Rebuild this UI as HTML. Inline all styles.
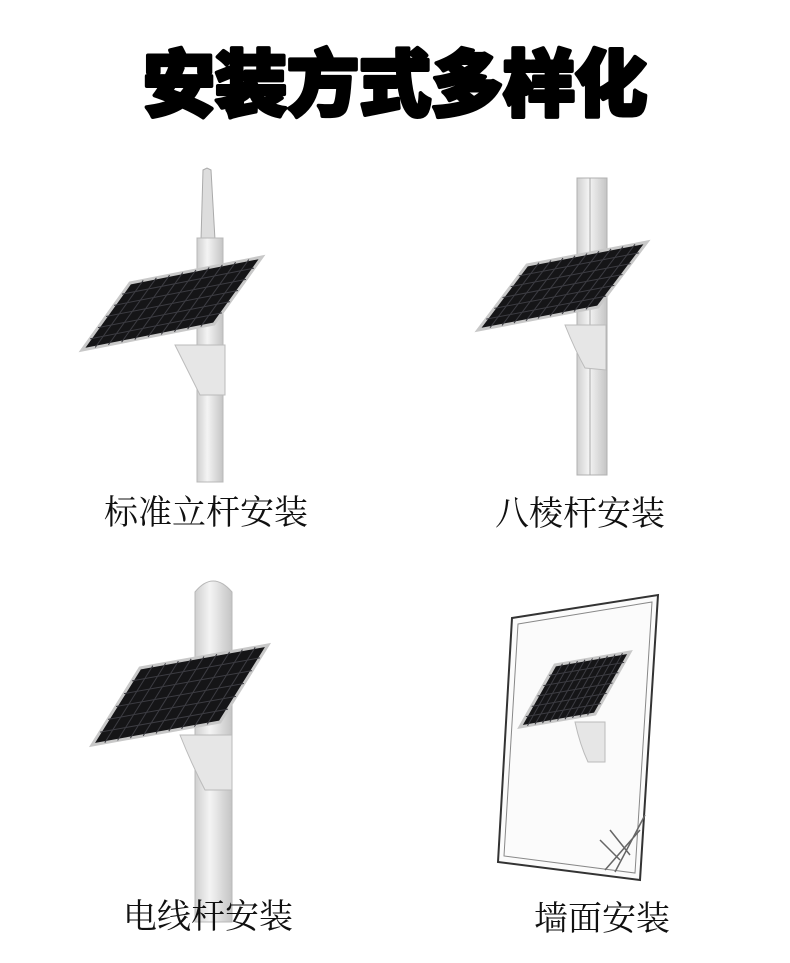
<!DOCTYPE html>
<html><head><meta charset="utf-8"><style>
body{margin:0;background:#fff;}
.t{font-family:"Liberation Serif","Noto Serif CJK SC",serif;font-size:34px;fill:#111;}
.h{font-family:"Liberation Sans","Noto Sans CJK SC",sans-serif;font-size:72px;font-weight:900;fill:#000;stroke:#000;stroke-width:4;stroke-linejoin:round;}
</style></head><body>
<svg width="790" height="958" viewBox="0 0 790 958" xmlns="http://www.w3.org/2000/svg">
<defs>
<linearGradient id="pg" x1="0" x2="1"><stop offset="0" stop-color="#cfcfcf"/><stop offset=".4" stop-color="#f4f4f4"/><stop offset="1" stop-color="#c4c4c4"/></linearGradient>
<g id="panel">
<rect x="0" y="0" width="1" height="1" fill="#151517" stroke="#c8c8c8" stroke-width="3" vector-effect="non-scaling-stroke"/>
<g stroke="#3c3c42" stroke-width="1" vector-effect="non-scaling-stroke">
<line x1=".1" y1="0" x2=".1" y2="1" vector-effect="non-scaling-stroke"/><line x1=".2" y1="0" x2=".2" y2="1" vector-effect="non-scaling-stroke"/><line x1=".3" y1="0" x2=".3" y2="1" vector-effect="non-scaling-stroke"/><line x1=".4" y1="0" x2=".4" y2="1" vector-effect="non-scaling-stroke"/><line x1=".5" y1="0" x2=".5" y2="1" vector-effect="non-scaling-stroke"/><line x1=".6" y1="0" x2=".6" y2="1" vector-effect="non-scaling-stroke"/><line x1=".7" y1="0" x2=".7" y2="1" vector-effect="non-scaling-stroke"/><line x1=".8" y1="0" x2=".8" y2="1" vector-effect="non-scaling-stroke"/><line x1=".9" y1="0" x2=".9" y2="1" vector-effect="non-scaling-stroke"/>
<line x1="0" y1=".1667" x2="1" y2=".1667" vector-effect="non-scaling-stroke"/><line x1="0" y1=".3333" x2="1" y2=".3333" vector-effect="non-scaling-stroke"/><line x1="0" y1=".5" x2="1" y2=".5" vector-effect="non-scaling-stroke"/><line x1="0" y1=".6667" x2="1" y2=".6667" vector-effect="non-scaling-stroke"/><line x1="0" y1=".8333" x2="1" y2=".8333" vector-effect="non-scaling-stroke"/>
</g></g>
</defs>
<text class="h" x="395" y="110" text-anchor="middle">安装方式多样化</text>

<!-- Q1 -->
<polygon points="203,170 207,168 211,170 215,240 201,240" fill="#ddd" stroke="#aaa"/>
<rect x="197" y="238" width="26" height="244" fill="url(#pg)" stroke="#b8b8b8"/>
<path d="M175,345 L225,345 L225,395 L200,395 Q190,375 175,345Z" fill="#e6e6e6" stroke="#bbb"/>
<use href="#panel" transform="matrix(132,-26,-48,67,130,283)"/>
<text class="t" x="206" y="524" text-anchor="middle">标准立杆安装</text>

<!-- Q2 -->
<rect x="577" y="178" width="30" height="297" fill="url(#pg)" stroke="#b0b0b0"/>
<line x1="590" y1="178" x2="590" y2="475" stroke="#aaa"/>
<path d="M565,325 L606,325 L606,370 L585,368 Q575,350 565,325Z" fill="#e6e6e6" stroke="#bbb"/>
<use href="#panel" transform="matrix(120,-23,-49,65,527,265)"/>
<text class="t" x="580" y="525" text-anchor="middle">八棱杆安装</text>

<!-- Q3 -->
<path d="M195,922 L195,592 Q213,570 232,592 L232,922Z" fill="url(#pg)" stroke="#b8b8b8"/>
<path d="M180,735 L232,735 L232,790 L205,790 Q192,765 180,735Z" fill="#e6e6e6" stroke="#bbb"/>
<use href="#panel" transform="matrix(128,-23,-48,77,140,668)"/>
<text class="t" x="208" y="928" text-anchor="middle">电线杆安装</text>

<!-- Q4 -->
<polygon points="512,618 658,595 640,880 498,862" fill="#fbfbfb" stroke="#333" stroke-width="2"/>
<polygon points="518,624 652,602 635,873 504,856" fill="none" stroke="#888" stroke-width="1"/>
<path d="M605,870 L640,830 M615,872 L645,815 M620,860 L600,840 M630,855 L610,830" stroke="#666" stroke-width="1.5" fill="none"/>
<path d="M575,722 L605,722 L605,762 L588,762 Q580,745 575,722Z" fill="#e6e6e6" stroke="#bbb"/>
<use href="#panel" transform="matrix(75,-13,-35,62,555,665)"/>
<text class="t" x="602" y="930" text-anchor="middle">墙面安装</text>
</svg>
</body></html>
